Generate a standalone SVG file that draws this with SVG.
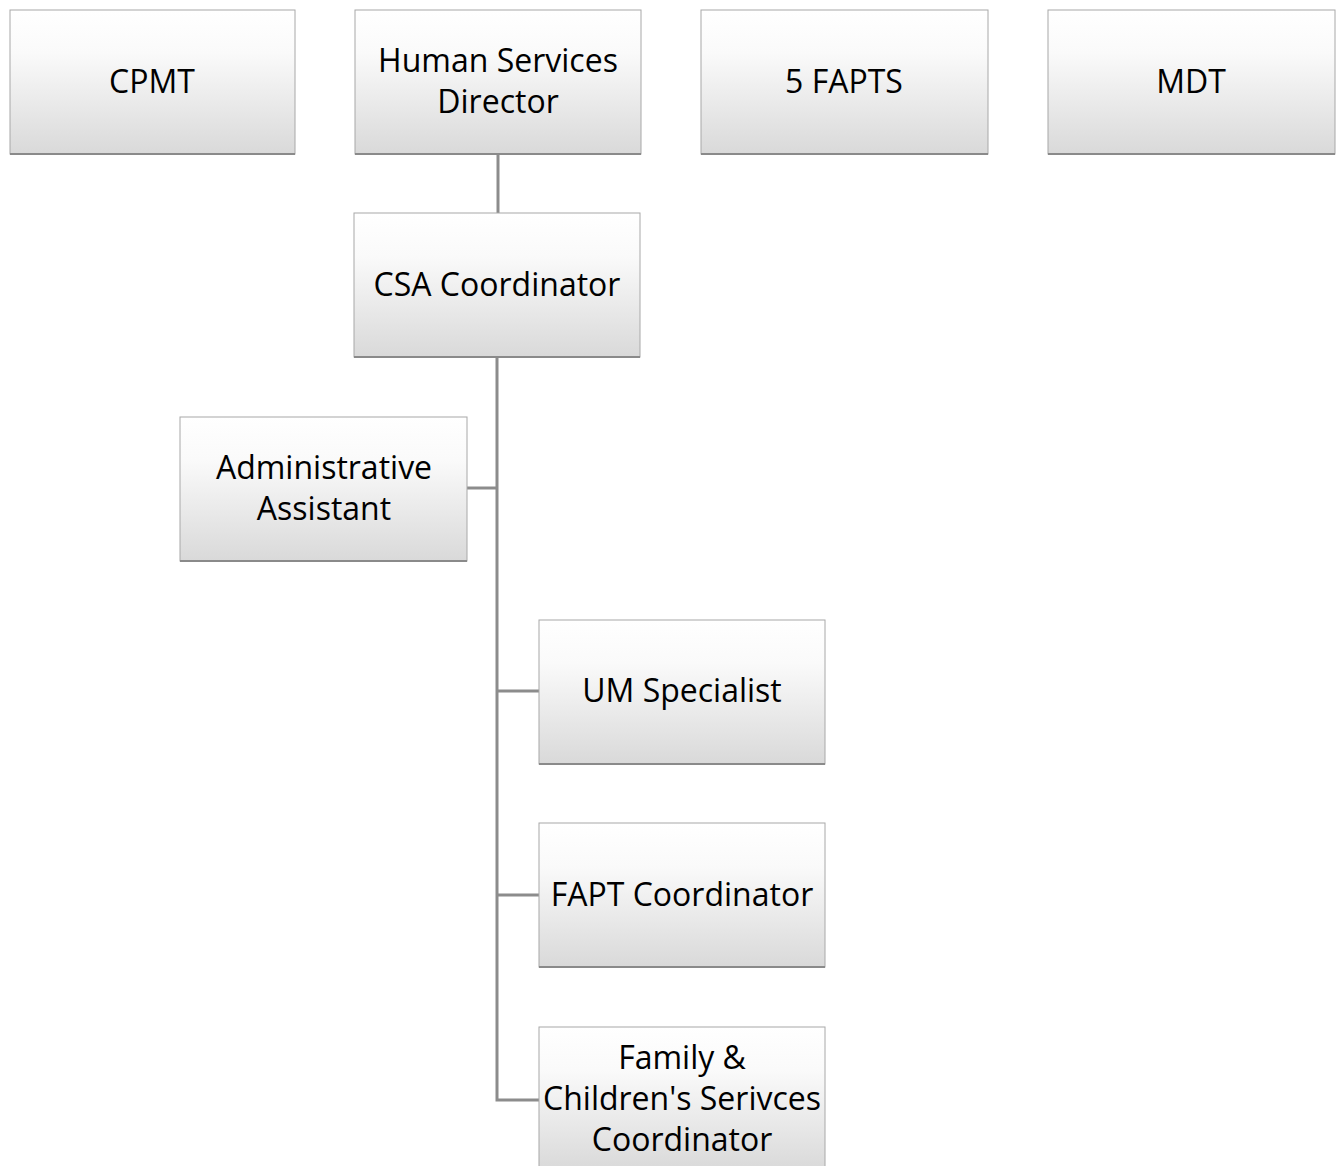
<svg xmlns="http://www.w3.org/2000/svg" width="1341" height="1166" viewBox="0 0 1341 1166">
<defs>
<linearGradient id="g" x1="0" y1="0" x2="0" y2="1">
<stop offset="0" stop-color="#ffffff"/>
<stop offset="0.3" stop-color="#fafafa"/>
<stop offset="1" stop-color="#d9d9d9"/>
</linearGradient>
<style>
.box{fill:url(#g);stroke:#a8a8a8;stroke-width:1}
.sh{stroke:#8a8a8a;stroke-width:2}
.t{font-family:"Open Sans","Noto Sans",sans-serif;font-size:32px;fill:#000;text-anchor:middle}
.c{stroke:#8c8c8c;stroke-width:3;fill:none}
</style>
</defs>
<rect width="1341" height="1166" fill="#fff"/>
<g id="connectors">
<line class="c" x1="498" y1="154" x2="498" y2="213"/>
<polyline class="c" points="497,357 497,1100 539,1100"/>
<line class="c" x1="467" y1="488" x2="497" y2="488"/>
<line class="c" x1="497" y1="691" x2="539" y2="691"/>
<line class="c" x1="497" y1="895" x2="539" y2="895"/>
</g>
<g id="cpmt"><rect class="box" x="10" y="10" width="285" height="144"/><line class="sh" x1="10" y1="154" x2="295" y2="154"/><text class="t" x="152" y="93">CPMT</text></g>
<g id="hsd"><rect class="box" x="355" y="10" width="286" height="144"/><line class="sh" x1="355" y1="154" x2="641" y2="154"/><text class="t" x="498" y="72">Human Services</text><text class="t" x="498" y="113">Director</text></g>
<g id="fapts"><rect class="box" x="701" y="10" width="287" height="144"/><line class="sh" x1="701" y1="154" x2="988" y2="154"/><text class="t" x="844" y="93">5 FAPTS</text></g>
<g id="mdt"><rect class="box" x="1048" y="10" width="287" height="144"/><line class="sh" x1="1048" y1="154" x2="1335" y2="154"/><text class="t" x="1191" y="93">MDT</text></g>
<g id="csa"><rect class="box" x="354" y="213" width="286" height="144"/><line class="sh" x1="354" y1="357" x2="640" y2="357"/><text class="t" x="497" y="296">CSA Coordinator</text></g>
<g id="admin"><rect class="box" x="180" y="417" width="287" height="144"/><line class="sh" x1="180" y1="561" x2="467" y2="561"/><text class="t" x="324" y="479">Administrative</text><text class="t" x="324" y="520">Assistant</text></g>
<g id="um"><rect class="box" x="539" y="620" width="286" height="144"/><line class="sh" x1="539" y1="764" x2="825" y2="764"/><text class="t" x="682" y="702">UM Specialist</text></g>
<g id="fapt"><rect class="box" x="539" y="823" width="286" height="144"/><line class="sh" x1="539" y1="967" x2="825" y2="967"/><text class="t" x="682" y="906">FAPT Coordinator</text></g>
<g id="fcs"><rect class="box" x="539" y="1027" width="286" height="144"/><text class="t" x="682" y="1069">Family &amp;</text><text class="t" x="682" y="1110">Children's Serivces</text><text class="t" x="682" y="1151">Coordinator</text></g>
</svg>
